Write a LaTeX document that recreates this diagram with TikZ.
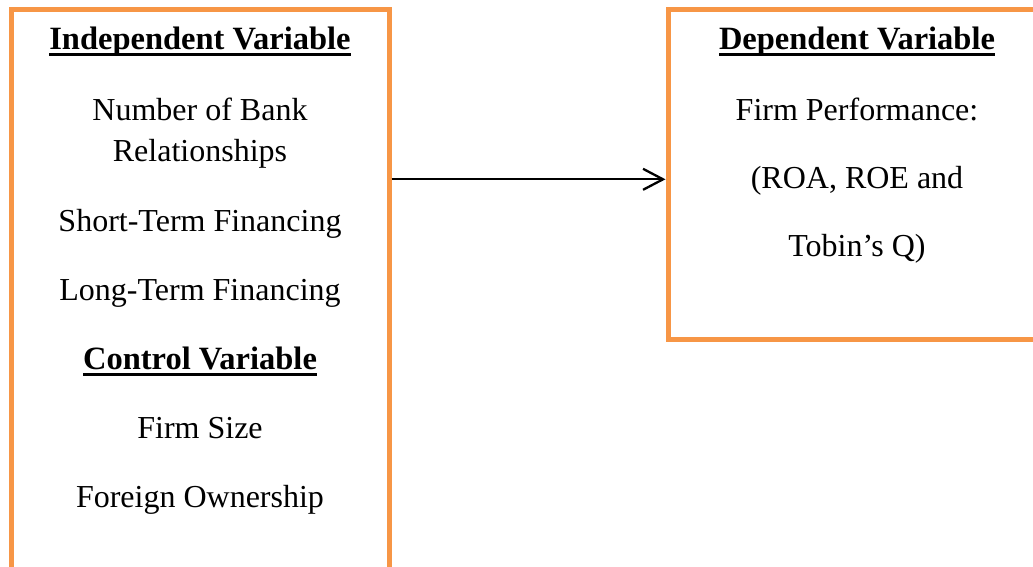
\documentclass[tikz,border=0pt]{standalone}
\usepackage{fontspec}
\setmainfont{Liberation Serif}
\usetikzlibrary{positioning,arrows.meta}
\definecolor{figorange}{RGB}{247,150,70}
\newcommand{\bodysize}{\fontsize{32}{38}\selectfont}
\newcommand{\headsize}{\fontsize{32.5}{39}\selectfont\bfseries}
% heavy underline for the column headings
\newcommand{\ulhead}[1]{\setbox0\hbox{#1}\rlap{\raisebox{-7.4pt}{\rule{\wd0}{3.4pt}}}\box0}
\tikzset{
  frame/.style={draw=figorange,line width=5pt,inner sep=0pt},
  txt/.style={font=\bodysize,anchor=base,inner sep=0pt},
  head/.style={font=\headsize,anchor=base,inner sep=0pt},
  ln/.style={-{Straight Barb[length=20pt,width=21pt]},line width=2.3pt},
}

\begin{document}
\begin{tikzpicture}[x=1pt,y=-1pt]
\useasboundingbox (0,0) rectangle (1033,566);
\clip (0,0) rectangle (1033,566);

% the two frames run off the page
\node[frame,minimum width=378pt,minimum height=691pt] (indep) at (200,354.5) {};
\node[frame,minimum width=432pt,minimum height=330pt] (dep) at (884,174) {};

% left column
\node[head] (ihead) at (200,49) {\ulhead{Independent Variable}};
\node[txt] (nbank) at (200,120) {Number of Bank};
\node[txt] (nrel) at (200,161.7) {Relationships};
\node[txt] (stf) at (200,231) {Short-Term Financing};
\node[txt] (ltf) at (200,300) {Long-Term Financing};
\node[head] (chead) at (200,369) {\ulhead{Control Variable}};
\node[txt] (fsize) at (200,438) {Firm Size};
\node[txt] (fown) at (200,507) {Foreign Ownership};

% right column
\node[head] (dhead) at (857,49) {\ulhead{Dependent Variable}};
\node[txt] (fperf) at (857,120) {Firm Performance:};
\node[txt] (roa) at (857,188) {(ROA, ROE and};
\node[txt] (tobq) at (857,256.5) {Tobin’s Q)};

\coordinate (mid) at (0,179.3);
\draw[ln] (indep.east |- mid) -- (dep.west |- mid);

\end{tikzpicture}
\end{document}
